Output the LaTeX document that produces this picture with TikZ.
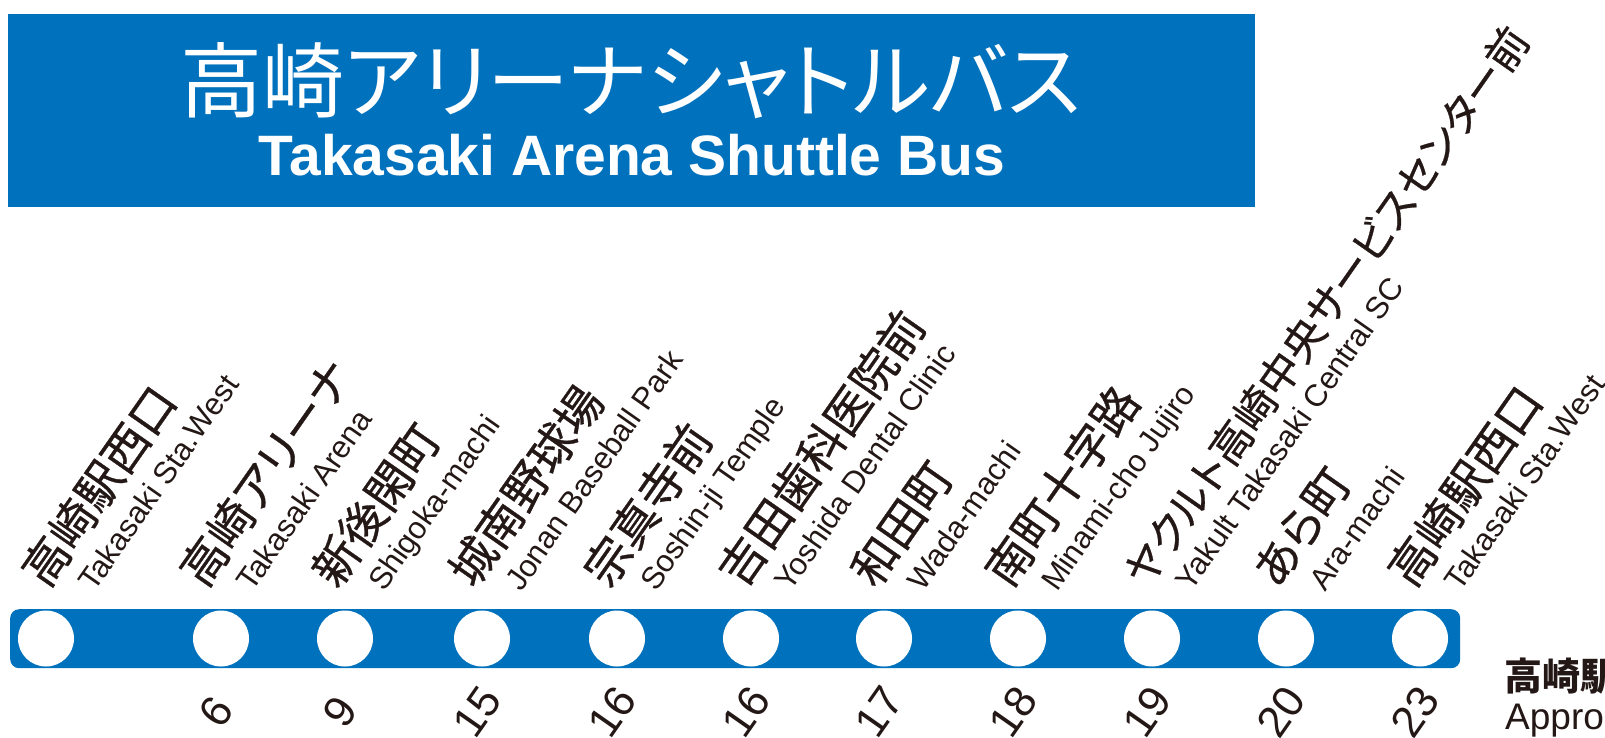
\documentclass[tikz,border=0pt]{standalone}
\usepackage{fontspec}
\setmainfont{Liberation Sans}
\newfontfamily\jpfont[RawFeature={+palt},FakeBold=0.6]{Noto Sans CJK JP}
\newfontfamily\jplegend{Noto Sans CJK JP}
\newfontfamily\jptitle[RawFeature={+palt}]{Noto Sans CJK JP}
\definecolor{busblue}{RGB}{0,113,188}
\definecolor{inkc}{RGB}{35,24,21}
\begin{document}
\begin{tikzpicture}[x=1pt,y=1pt,
  jlabel/.style={anchor=base west, rotate=55, inner sep=0pt, font=\jpfont\fontsize{46}{46}\selectfont, text=inkc},
  elabel/.style={anchor=base west, rotate=55, inner sep=0pt, font=\fontsize{31}{31}\selectfont, text=inkc},
  mins/.style={anchor=center, rotate=55, inner sep=0pt, font=\fontsize{44}{44}\selectfont, text=inkc},
  stopdot/.style={circle, fill=white, minimum size=56pt, inner sep=0pt},
]
\useasboundingbox (0,0) rectangle (1605,-737);
\clip (0,0) rectangle (1605,-737);
% title
\node[fill=busblue, minimum width=1247pt, minimum height=193pt, inner sep=0pt, anchor=north west] (titlebox) at (8,-14) {};
\node[anchor=base, inner sep=0pt, text=white, font=\jptitle\fontsize{82}{82}\selectfont] (titlejp) at (631,-111) {高崎アリーナシャトルバス};
\node[anchor=base, inner sep=0pt, text=white, font=\bfseries\fontsize{57}{57}\selectfont] (titleen) at (632,-175) {Takasaki Arena Shuttle Bus};
% route bar
\node[fill=busblue, rounded corners=9pt, minimum width=1450pt, minimum height=59pt, inner sep=0pt, anchor=north west] (bar) at (10,-609) {};
% stops
\foreach \i/\cx in {1/46,2/221,3/345,4/482,5/617,6/751,7/884,8/1018,9/1152,10/1286,11/1420}{
  \node[stopdot] (s\i) at (\cx,-638.5) {};
}
% labels: name (jx = start of the Japanese line)
\foreach \i/\jx/\jp/\en in {
  1/47/高崎駅西口/Takasaki Sta.West,
  2/205/高崎アリーナ/Takasaki Arena,
  3/337/新後閑町/Shigoka-machi,
  4/474/城南野球場/Jonan Baseball Park,
  5/609/宗真寺前/Soshin-ji Temple,
  6/743/吉田歯科医院前/Yoshida Dental Clinic,
  7/876/和田町/Wada-machi,
  8/1010/南町十字路/Minami-cho Jujiro,
  10/1278/あら町/Ara-machi,
  11/1413/高崎駅西口/Takasaki Sta.West}{
  \node[jlabel] (j\i) at (\jx,-590) {\jp};
  \node[elabel] (e\i) at (\jx+47,-593) {\en};
}
\node[jlabel, font=\jpfont\fontsize{42}{42}\selectfont] (j9) at (1147,-590) {ヤクルト高崎中央サービスセンター前};
\node[elabel] (e9) at (1191,-593) {Yakult Takasaki Central SC};
% minutes
\foreach \i/\cx/\m in {2/221/6,3/345/9,4/482/15,5/617/16,6/751/16,7/884/17,8/1018/18,9/1152/19,10/1286/20,11/1420/23}{
  \node[mins] (m\i) at (\cx-5,-712) {\m};
}
% legend (cut off at the right edge)
\node[anchor=base west, inner sep=0pt, text=inkc, font=\jplegend\bfseries\fontsize{38}{38}\selectfont] (legjp) at (1504,-690) {高崎駅};
\node[anchor=base west, inner sep=0pt, text=inkc, font=\fontsize{37}{37}\selectfont] (legen) at (1505,-729) {Appro};
\end{tikzpicture}
\end{document}
